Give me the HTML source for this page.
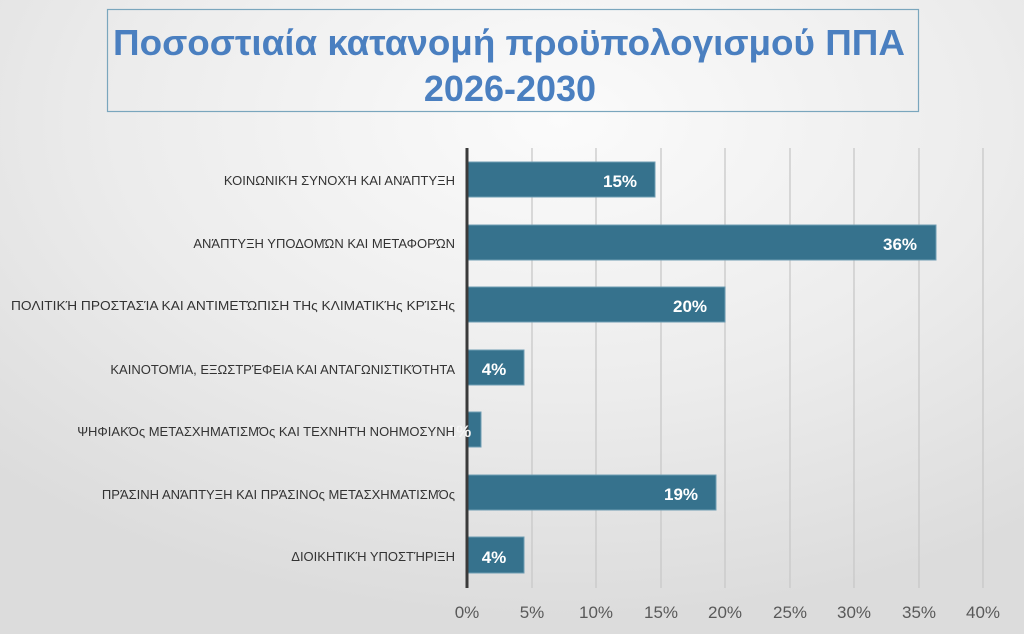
<!DOCTYPE html>
<html><head><meta charset="utf-8"><style>
body{margin:0;width:1024px;height:634px;overflow:hidden;font-family:"Liberation Sans","DejaVu Sans",sans-serif;
background:radial-gradient(ellipse 800px 500px at 560px 120px,#fbfbfb 0%,#ececec 55%,#dcdcdc 100%);}
</style></head><body>
<svg width="1024" height="634" xmlns="http://www.w3.org/2000/svg" style="position:absolute;left:0;top:0">
<rect x="107.5" y="9.5" width="811" height="102" fill="none" stroke="#7aa6bd" stroke-width="1.2"/>
<g font-weight="bold" font-size="36" fill="#4a7fc0" text-anchor="middle">
<text x="509" y="55" textLength="792" lengthAdjust="spacingAndGlyphs">Ποσοστιαία κατανομή προϋπολογισμού ΠΠΑ</text>
<text x="510" y="101">2026-2030</text>
</g>
<g stroke="#c8c8c8" stroke-width="1.3">
<line x1="532" y1="148" x2="532" y2="588"/><line x1="596" y1="148" x2="596" y2="588"/>
<line x1="661" y1="148" x2="661" y2="588"/><line x1="725" y1="148" x2="725" y2="588"/>
<line x1="790" y1="148" x2="790" y2="588"/><line x1="854" y1="148" x2="854" y2="588"/>
<line x1="919" y1="148" x2="919" y2="588"/><line x1="983" y1="148" x2="983" y2="588"/>
</g>
<g fill="#36728d" stroke="#6f9db3" stroke-width="1">
<rect x="467" y="162" width="188" height="35"/>
<rect x="467" y="225" width="469" height="35"/>
<rect x="467" y="287" width="258" height="35"/>
<rect x="467" y="350" width="57" height="35"/>
<rect x="467" y="412" width="14" height="35"/>
<rect x="467" y="475" width="249" height="35"/>
<rect x="467" y="537" width="57" height="36"/>
</g>
<line x1="467" y1="148" x2="467" y2="588" stroke="#3a3a3a" stroke-width="3"/>
<g fill="#fff" font-weight="bold" font-size="17" text-anchor="middle">
<text x="620" y="187">15%</text>
<text x="900" y="250">36%</text>
<text x="690" y="312">20%</text>
<text x="494" y="375">4%</text>
<text x="459" y="437" fill="#f4f4f4">1%</text>
<text x="681" y="500">19%</text>
<text x="494" y="563">4%</text>
</g>
<g fill="#333" font-size="13" text-anchor="end">
<text x="455" y="185">ΚΟΙΝΩΝΙΚΉ ΣΥΝΟΧΉ ΚΑΙ ΑΝΆΠΤΥΞΗ</text>
<text x="455" y="248">ΑΝΆΠΤΥΞΗ ΥΠΟΔΟΜΏΝ ΚΑΙ ΜΕΤΑΦΟΡΏΝ</text>
<text x="455" y="310" textLength="444" lengthAdjust="spacingAndGlyphs">ΠΟΛΙΤΙΚΉ ΠΡΟΣΤΑΣΊΑ ΚΑΙ ΑΝΤΙΜΕΤΏΠΙΣΗ ΤΗς ΚΛΙΜΑΤΙΚΉς ΚΡΊΣΗς</text>
<text x="455" y="374">ΚΑΙΝΟΤΟΜΊΑ, ΕΞΩΣΤΡΈΦΕΙΑ ΚΑΙ ΑΝΤΑΓΩΝΙΣΤΙΚΌΤΗΤΑ</text>
<text x="455" y="436">ΨΗΦΙΑΚΌς ΜΕΤΑΣΧΗΜΑΤΙΣΜΌς ΚΑΙ ΤΕΧΝΗΤΉ ΝΟΗΜΟΣΥΝΗ</text>
<text x="455" y="499">ΠΡΆΣΙΝΗ ΑΝΆΠΤΥΞΗ ΚΑΙ ΠΡΆΣΙΝΟς ΜΕΤΑΣΧΗΜΑΤΙΣΜΌς</text>
<text x="455" y="561">ΔΙΟΙΚΗΤΙΚΉ ΥΠΟΣΤΉΡΙΞΗ</text>
</g>
<g fill="#595959" font-size="17" text-anchor="middle">
<text x="467" y="618">0%</text><text x="532" y="618">5%</text><text x="596" y="618">10%</text>
<text x="661" y="618">15%</text><text x="725" y="618">20%</text><text x="790" y="618">25%</text>
<text x="854" y="618">30%</text><text x="919" y="618">35%</text><text x="983" y="618">40%</text>
</g>
</svg>
</body></html>
